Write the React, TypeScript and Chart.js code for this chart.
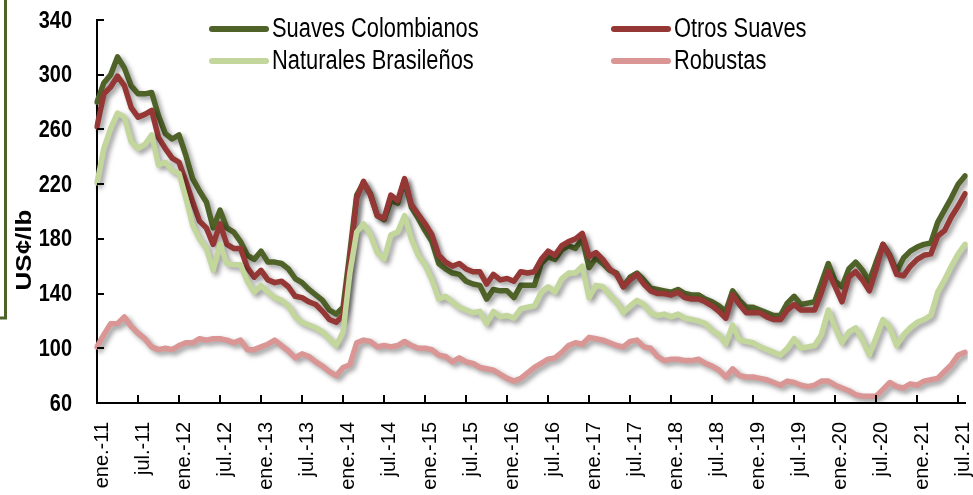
import React, { useEffect, useRef } from 'react';
import { Chart, registerables } from 'chart.js';

Chart.register(...registerables);

const monthNames = ['ene.', 'feb.', 'mar.', 'abr.', 'may.', 'jun.', 'jul.', 'ago.', 'sep.', 'oct.', 'nov.', 'dic.'];
const years = ['11', '12', '13', '14', '15', '16', '17', '18', '19', '20', '21'];
const monthCount = 128; // ene.-11 .. ago.-21
const categories: string[] = [];
for (const yy of years) for (const m of monthNames) if (categories.length < monthCount) categories.push(`${m}-${yy}`);

const suavesColombianos = [
  280, 294, 300, 313, 305, 292, 286, 286, 287, 270, 257, 253,
  256, 241, 224, 215, 207, 188, 201, 188, 185, 178, 168, 165,
  171, 163, 163, 162, 158, 151, 148, 143, 139, 135, 128, 125,
  130, 170, 212, 221, 213, 197, 194, 208, 206, 223, 203, 195,
  186, 178, 162, 158, 155, 154, 149, 147, 146, 136, 143, 142,
  142, 137, 146, 146, 146, 162, 167, 165, 172, 175, 173, 180,
  159, 166, 162, 157, 155, 145, 152, 155, 150, 144, 143, 142,
  141, 143, 140, 139, 139, 136, 134, 131, 127, 142, 135, 130,
  130, 128, 126, 124, 124, 133, 138, 132, 133, 134, 148, 162,
  149, 145, 158, 163, 157, 149, 163, 176, 168, 156, 166, 171,
  174, 176, 177, 192, 201, 210, 220, 226,
];

const otrosSuaves = [
  262, 286, 291, 299, 292, 276, 269, 271, 274, 254, 246, 239,
  236, 222, 207, 193, 188, 176, 191, 176, 173, 173, 159, 152,
  157, 150, 148, 149, 145, 138, 137, 134, 132, 127, 121, 119,
  124, 165, 210, 222, 212, 197, 195, 212, 208, 224, 205, 198,
  191, 183, 168, 163, 160, 162, 158, 156, 156, 147, 154, 150,
  151, 149, 156, 155, 156, 165, 171, 168, 175, 178, 180, 184,
  167, 170, 165, 158, 154, 145, 150, 154, 147, 142, 140, 140,
  139, 141, 137, 136, 136, 134, 131, 127, 122, 139, 132, 126,
  126, 126, 123, 121, 121, 128, 132, 128, 128, 128, 141, 156,
  145, 134, 152, 156, 150, 142, 158, 176, 167, 154, 153, 160,
  165, 168, 169, 182, 186, 196, 204, 213,
];

const naturalesBrasilenos = [
  221, 246, 261, 272, 269, 251, 246, 249, 256, 234, 236, 230,
  228, 210, 190, 180, 173, 157, 176, 162, 161, 161, 149, 141,
  146, 141, 137, 135, 131, 123, 119, 117, 115, 112, 107, 102,
  112, 155, 185, 191, 183, 170, 165, 183, 185, 197, 180, 168,
  161, 150, 136, 138, 134, 130, 128, 126, 127, 118, 127, 123,
  124, 122, 129, 130, 131, 141, 145, 141, 151, 155, 155, 160,
  137, 146, 145, 139, 134, 126, 131, 135, 132, 126, 124, 125,
  123, 125, 122, 121, 120, 118, 113, 110, 103, 117, 106, 105,
  104, 101, 99, 97, 95, 100, 107, 100, 101, 102, 110, 128,
  115, 104, 112, 115, 106, 95, 108, 121, 115, 102, 110, 115,
  119, 121, 124, 141, 150, 160, 169, 176,
];

const robustas = [
  101, 110, 118, 118, 123, 116, 111, 107, 101, 99, 100, 99,
  102, 104, 104, 107, 106, 107, 107, 106, 104, 106, 99, 99,
  101, 103, 106, 102, 98, 93, 96, 94, 90, 87, 83, 80,
  86, 88, 104, 106, 105, 101, 102, 101, 102, 105, 102, 100,
  100, 99, 95, 94, 90, 93, 90, 89, 86, 85, 84, 81,
  78, 76, 78, 82, 86, 89, 92, 93, 97, 102, 104, 103,
  108, 107, 106, 104, 102, 101, 105, 106, 101, 100, 94, 91,
  92, 92, 91, 91, 92, 89, 87, 84, 79, 85, 80, 79,
  79, 78, 77, 75, 73, 76, 75, 73, 72, 73, 76, 76,
  73, 71, 69, 66, 65, 65, 65, 70, 75, 72, 71, 74,
  73, 76, 77, 78, 83, 88, 95, 97,
];

const seriesNames = ['Suaves Colombianos', 'Otros Suaves', 'Naturales Brasileños', 'Robustas'];
const seriesColors = ['#4F6228', '#953735', '#C3D69B', '#D99694'];
const yMin = 60;
const yMax = 340;
const yStep = 40;
const labelEvery = 6;
const yTitle = 'US¢/lb';

const FONT = "'Liberation Sans', Arial, sans-serif";
const SQUEEZE = 0.81;

const shadowPlugin = {
  id: 'lineShadow',
  beforeDatasetsDraw(chart: any) {
    const ctx = chart.ctx;
    ctx.save();
    ctx.shadowColor = 'rgba(0,0,0,0.4)';
    ctx.shadowBlur = 5;
    ctx.shadowOffsetX = 3;
    ctx.shadowOffsetY = 3;
  },
  afterDatasetsDraw(chart: any) {
    chart.ctx.restore();
  },
};

const decorPlugin = {
  id: 'decor',
  afterDraw(chart: any) {
    const { ctx, chartArea, scales } = chart;
    const x = scales.x;
    const y = scales.y;
    ctx.save();
    // inward tick marks
    ctx.strokeStyle = '#000';
    ctx.lineWidth = 2;
    ctx.beginPath();
    y.ticks.forEach((t: any) => {
      const py = Math.round(y.getPixelForValue(t.value));
      ctx.moveTo(chartArea.left, py);
      ctx.lineTo(chartArea.left + 7, py);
    });
    for (let i = 0; i < categories.length; i += labelEvery) {
      const px = Math.round(x.getPixelForValue(i));
      ctx.moveTo(px, chartArea.bottom);
      ctx.lineTo(px, chartArea.bottom - 8);
    }
    ctx.stroke();

    // y tick labels (condensed, bold)
    ctx.fillStyle = '#000';
    ctx.font = `bold 24px ${FONT}`;
    ctx.textAlign = 'right';
    ctx.textBaseline = 'middle';
    y.ticks.forEach((t: any) => {
      const py = y.getPixelForValue(t.value);
      ctx.save();
      ctx.translate(chartArea.left - 25, py + 1);
      ctx.scale(0.83, 1);
      ctx.fillText(String(t.value), 0, 0);
      ctx.restore();
    });

    // legend (two columns)
    const legendPos = [
      { lx: 212, ly: 29 },
      { lx: 614, ly: 29 },
      { lx: 212, ly: 61 },
      { lx: 614, ly: 61 },
    ];
    ctx.font = `27px ${FONT}`;
    ctx.textBaseline = 'middle';
    ctx.textAlign = 'left';
    chart.data.datasets.forEach((ds: any, i: number) => {
      const p = legendPos[i];
      ctx.strokeStyle = ds.borderColor;
      ctx.lineWidth = 6;
      ctx.lineCap = 'round';
      ctx.beginPath();
      ctx.moveTo(p.lx, p.ly);
      ctx.lineTo(p.lx + 54, p.ly);
      ctx.stroke();
      ctx.save();
      ctx.translate(p.lx + 60, p.ly + 1);
      ctx.scale(SQUEEZE, 1);
      ctx.fillStyle = '#000';
      ctx.fillText(ds.label, 0, 0);
      ctx.restore();
    });

    // y axis title
    ctx.save();
    ctx.translate(25, 250);
    ctx.scale(0.85, 1);
    ctx.rotate(-Math.PI / 2);
    ctx.font = `bold 26px ${FONT}`;
    ctx.fillStyle = '#000';
    ctx.textAlign = 'center';
    ctx.textBaseline = 'middle';
    ctx.fillText(yTitle, 0, 0);
    ctx.restore();

    // frame fragment on the left edge
    ctx.strokeStyle = '#4F6228';
    ctx.lineWidth = 3;
    ctx.lineCap = 'butt';
    ctx.beginPath();
    ctx.moveTo(0, 318);
    ctx.lineTo(5.5, 318);
    ctx.lineTo(5.5, 0);
    ctx.stroke();
    ctx.restore();
  },
};

const zeroPad = (s: any) => {
  s.paddingTop = 0;
  s.paddingBottom = 0;
  s.paddingLeft = 0;
  s.paddingRight = 0;
};

export default function App() {
  const ref = useRef<HTMLCanvasElement>(null);
  useEffect(() => {
    if (!ref.current) return;
    const values = [suavesColombianos, otrosSuaves, naturalesBrasilenos, robustas];
    const chart = new Chart(ref.current, {
      type: 'line',
      data: {
        labels: categories,
        datasets: values.map((v, i) => ({
          label: seriesNames[i],
          data: v,
          borderColor: seriesColors[i],
          backgroundColor: seriesColors[i],
          borderWidth: 5.5,
          pointRadius: 0,
          tension: 0,
          borderJoinStyle: 'round' as const,
          borderCapStyle: 'round' as const,
          order: 4 - i,
        })),
      },
      options: {
        responsive: false,
        animation: false,
        layout: { autoPadding: false, padding: { top: 20, right: 8, left: 0, bottom: 0 } },
        plugins: { legend: { display: false }, tooltip: { enabled: false } },
        scales: {
          x: {
            type: 'category',
            grid: { display: true, drawOnChartArea: false, drawTicks: false },
            border: { display: true, color: '#000', width: 2 },
            afterFit: (s: any) => { s.height = 92; zeroPad(s); },
            ticks: {
              autoSkip: false,
              minRotation: 90,
              maxRotation: 90,
              padding: 19,
              labelOffset: 5,
              color: '#000',
              font: { family: FONT, size: 20 },
              callback: (_v: any, idx: number) => (idx % labelEvery === 0 ? categories[idx] : ''),
            },
          },
          y: {
            min: yMin,
            max: yMax,
            grid: { display: true, drawOnChartArea: false, drawTicks: false },
            border: { display: true, color: '#000', width: 2 },
            afterFit: (s: any) => { s.width = 97; zeroPad(s); },
            ticks: {
              display: false,
              stepSize: yStep,
            },
          },
        },
      },
      plugins: [shadowPlugin, decorPlugin],
    });
    return () => chart.destroy();
  }, []);
  return (
    <div style={{ position: 'fixed', left: 0, top: 0, width: 973, height: 495, background: '#fff' }}>
      <canvas ref={ref} width={973} height={495} style={{ display: 'block' }} />
    </div>
  );
}
